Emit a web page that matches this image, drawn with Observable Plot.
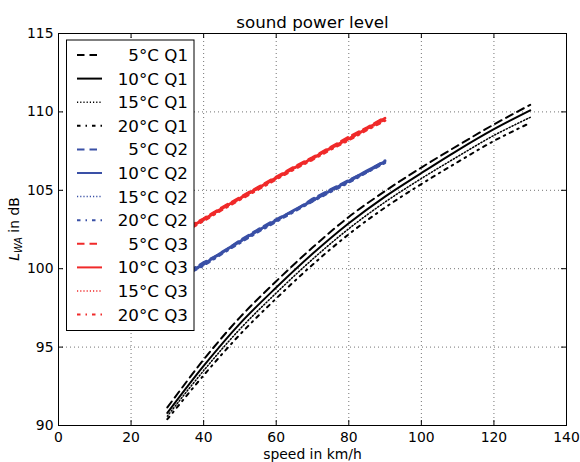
<!DOCTYPE html>
<html>
<head>
<meta charset="utf-8">
<script src="https://cdn.jsdelivr.net/npm/d3@7"></script>
<script src="https://cdn.jsdelivr.net/npm/@observablehq/plot@0.6"></script>
<style>
  html, body { margin: 0; padding: 0; background: #fff; }
  #chart svg { display: block; }
</style>
</head>
<body>
<div id="chart"></div>
<script>
// ---------- data ----------
const title = "sound power level";
const xLabel = "speed in km/h";
const yLabelMain = "L";
const yLabelSub = "WA";
const yLabelRest = " in dB";
const xTicks = [0, 20, 40, 60, 80, 100, 120, 140];
const yTicks = [90, 95, 100, 105, 110, 115];
const temps = ["5°C", "10°C", "15°C", "20°C"];
const groups = ["Q1", "Q2", "Q3"];

// Q1 (30 … 130 km/h)
const speedQ1 = [30, 40, 50, 60, 70, 80, 90, 100, 110, 120, 130];
const q1_5  = [91.15, 94.2, 96.9, 99.2, 101.35, 103.3, 104.95, 106.45, 107.85, 109.2, 110.45];
const q1_10 = [90.8, 93.8, 96.5, 98.8, 100.95, 102.9, 104.6, 106.1, 107.55, 108.9, 110.1];
const q1_15 = [90.6, 93.5, 96.15, 98.45, 100.6, 102.55, 104.25, 105.75, 107.15, 108.5, 109.65];
const q1_20 = [90.4, 93.2, 95.8, 98.1, 100.25, 102.2, 103.9, 105.4, 106.8, 108.15, 109.3];

// Q2 and Q3 (30 … 90 km/h)
const speedQ23 = [30, 35, 40, 45, 50, 55, 60, 65, 70, 75, 80, 85, 90];
const q2_5  = [99.05, 99.7, 100.4, 101.0, 101.8, 102.5, 103.15, 103.7, 104.45, 105.05, 105.65, 106.2, 106.9];
const q2_10 = [99.0, 99.65, 100.3, 101.05, 101.75, 102.45, 103.1, 103.75, 104.35, 105.0, 105.6, 106.25, 106.85];
const q2_15 = [98.95, 99.6, 100.25, 101.0, 101.7, 102.4, 103.05, 103.7, 104.3, 104.95, 105.55, 106.15, 106.8];
const q2_20 = [98.9, 99.6, 100.2, 100.95, 101.65, 102.35, 103.0, 103.65, 104.3, 104.9, 105.5, 106.15, 106.75];

const q3_5  = [101.85, 102.55, 103.2, 103.9, 104.55, 105.2, 105.85, 106.5, 107.1, 107.75, 108.4, 109.0, 109.65];
const q3_10 = [101.8, 102.5, 103.15, 103.85, 104.5, 105.15, 105.8, 106.45, 107.05, 107.7, 108.3, 108.95, 109.6];
const q3_15 = [101.75, 102.45, 103.1, 103.8, 104.45, 105.1, 105.75, 106.4, 107.0, 107.65, 108.25, 108.9, 109.5];
const q3_20 = [101.7, 102.4, 103.05, 103.75, 104.4, 105.05, 105.7, 106.35, 106.95, 107.6, 108.2, 108.85, 109.45];

// ---------- styles ----------
const groupColor = { Q1: "#000000", Q2: "#3a50a6", Q3: "#f02a2a" };
const tempDash = { "5°C": "7.5,5", "10°C": null, "15°C": "1.2,2", "20°C": "3.5,5,1.5,5" };
const tempWidth = { "5°C": 2, "10°C": 2, "15°C": 1.5, "20°C": 2 };
const measuredWidth = { "5°C": 2.6, "10°C": 2.6, "15°C": 2, "20°C": 2.6 };

const seriesValues = {
  Q1: [q1_5, q1_10, q1_15, q1_20],
  Q2: [q2_5, q2_10, q2_15, q2_20],
  Q3: [q3_5, q3_10, q3_15, q3_20]
};
const seriesSpeeds = { Q1: speedQ1, Q2: speedQ23, Q3: speedQ23 };

const series = [];
for (const g of groups) {
  temps.forEach((t, i) => {
    const vals = seriesValues[g][i];
    series.push({
      label: `${t} ${g}`, temp: t, group: g,
      rows: seriesSpeeds[g].map((s, k) => ({ speed: s, L: vals[k] }))
    });
  });
}

// ---------- chart ----------
const W = 580, H = 462;
const mL = 58, mR = 14, mT = 33, mB = 37;
const plotW = W - mL - mR, plotH = H - mT - mB;
const tickLen = 5;

const lineMarks = series.map(s => Plot.line(s.rows, {
  x: "speed", y: "L",
  stroke: groupColor[s.group],
  strokeWidth: s.group === "Q1" ? tempWidth[s.temp] : measuredWidth[s.temp],
  strokeDasharray: tempDash[s.temp] || undefined,
  curve: s.group === "Q1" ? "catmull-rom" : "linear"
}));

const chart = Plot.plot({
  width: W, height: H,
  marginLeft: mL, marginRight: mR, marginTop: mT, marginBottom: mB,
  style: { fontFamily: "DejaVu Sans", fontSize: "13.9px", color: "#000", background: "#fff", overflow: "visible" },
  x: { domain: [0, 140] },
  y: { domain: [90, 115] },
  marks: [
    Plot.gridX(xTicks, { stroke: "#000", strokeOpacity: 0.55, strokeWidth: 1, strokeDasharray: "1,3" }),
    Plot.gridY(yTicks, { stroke: "#000", strokeOpacity: 0.55, strokeWidth: 1, strokeDasharray: "1,3" }),
    ...lineMarks,
    Plot.frame({ stroke: "#000", strokeWidth: 1 }),
    Plot.tickX(xTicks, { x: d => d, insetTop: plotH - tickLen, stroke: "#000" }),
    Plot.tickX(xTicks, { x: d => d, insetBottom: plotH - tickLen, stroke: "#000" }),
    Plot.tickY(yTicks, { y: d => d, insetRight: plotW - tickLen, stroke: "#000" }),
    Plot.tickY(yTicks, { y: d => d, insetLeft: plotW - tickLen, stroke: "#000" }),
    Plot.axisX(xTicks, { tickSize: 0, tickPadding: 6.5, label: null, tickFormat: d => String(d), fontSize: 13.9 }),
    Plot.axisY(yTicks, { tickSize: 0, tickPadding: 5, label: null, tickFormat: d => String(d), fontSize: 13.9 }),
    Plot.text([title], { frameAnchor: "top", lineAnchor: "bottom", dy: -5.5, fontSize: 16.7, fill: "#000" }),
    Plot.text([xLabel], { frameAnchor: "bottom", lineAnchor: "bottom", dy: 33.5, fontSize: 13.9, fill: "#000" })
  ]
});

document.getElementById("chart").appendChild(chart);

// ---------- y label with math subscript ----------
const svg = d3.select(chart);
const yl = svg.append("text")
  .attr("transform", `translate(19,${mT + plotH / 2}) rotate(-90)`)
  .attr("text-anchor", "middle")
  .attr("font-family", "DejaVu Sans")
  .attr("font-size", 13.9)
  .attr("fill", "#000");
yl.append("tspan").attr("font-style", "italic").text(yLabelMain);
yl.append("tspan").attr("font-style", "italic").attr("font-size", 9.8).attr("dy", 2.5).text(yLabelSub);
yl.append("tspan").attr("dy", -2.5).text(yLabelRest);

// ---------- legend ----------
const lg = svg.append("g");
const lx0 = 66.5, ly0 = 40, lx1 = 194, ly1 = 330.5;
lg.append("rect")
  .attr("x", lx0).attr("y", ly0).attr("width", lx1 - lx0).attr("height", ly1 - ly0)
  .attr("fill", "#fff").attr("stroke", "#000").attr("stroke-width", 1);
series.forEach((s, i) => {
  const yy = 55 + i * 23.6;
  const ln = lg.append("line")
    .attr("x1", 77).attr("x2", 102).attr("y1", yy).attr("y2", yy)
    .attr("stroke", groupColor[s.group]).attr("stroke-width", tempWidth[s.temp]);
  if (tempDash[s.temp]) ln.attr("stroke-dasharray", tempDash[s.temp]);
  lg.append("text")
    .attr("x", 188).attr("y", yy + 6)
    .attr("text-anchor", "end")
    .attr("font-family", "DejaVu Sans")
    .attr("font-size", 16.7)
    .attr("fill", "#000")
    .text(s.label);
});
</script>
</body>
</html>
